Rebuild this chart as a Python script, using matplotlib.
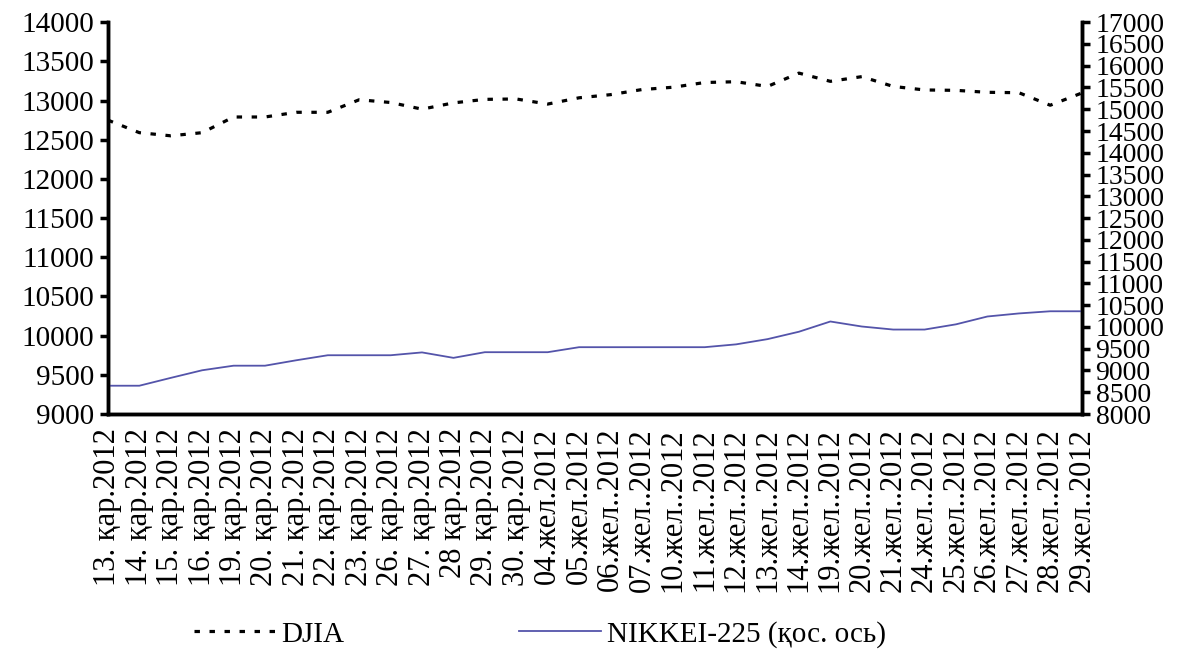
import matplotlib
matplotlib.use("Agg")
import matplotlib.pyplot as plt

plt.rcParams['font.family'] = ['Liberation Serif', 'DejaVu Serif']

# dates as printed on the x axis
dates = ["13. қар.2012", "14. қар.2012", "15. қар.2012", "16. қар.2012",
         "19. қар.2012", "20. қар.2012", "21. қар.2012", "22. қар.2012",
         "23. қар.2012", "26. қар.2012", "27. қар.2012", "28 қар.2012",
         "29. қар.2012", "30. қар.2012", "04.жел.2012", "05.жел.2012",
         "06.жел..2012", "07.жел..2012", "10.жел..2012", "11.жел..2012",
         "12.жел..2012", "13.жел..2012", "14.жел..2012", "19.жел..2012",
         "20.жел..2012", "21.жел..2012", "24.жел..2012", "25.жел..2012",
         "26.жел..2012", "27.жел..2012", "28.жел..2012", "29.жел..2012"]

djia = [12750, 12590, 12550, 12590, 12790, 12790, 12850, 12850,
        13010, 12975, 12890, 12970, 13015, 13020, 12955, 13035,
        13075, 13140, 13170, 13230, 13240, 13180, 13350, 13245,
        13305, 13180, 13135, 13130, 13105, 13100, 12940, 13095]

nikkei = [8650, 8650, 8830, 9005, 9110, 9110, 9235, 9350,
          9350, 9350, 9415, 9290, 9420, 9420, 9420, 9535,
          9535, 9535, 9535, 9535, 9600, 9720, 9890, 10125,
          10010, 9940, 9940, 10060, 10240, 10310, 10360, 10360]

left_ticks = list(range(9000, 14001, 500))
right_ticks = list(range(8000, 17001, 500))

nikkei_color = '#5454aa'
fs = 21

fig = plt.figure(figsize=(11.86, 6.52), dpi=100)
ax = fig.add_axes([0.091, 0.365, 0.821, 0.601])
ax2 = ax.twinx()

xx = list(range(len(dates)))
l1, = ax.plot(xx, djia, color='black', lw=2.3, linestyle=(0, (1.7, 3.0)),
              dash_capstyle='butt', label='DJIA')
l2, = ax2.plot(xx, nikkei, color=nikkei_color, lw=1.3,
               label='NIKKEI-225 (қос. ось)')

ax.set_xlim(0, len(dates) - 1)
ax.set_ylim(9000, 14000)
ax2.set_ylim(8000, 17000)
ax.set_yticks(left_ticks)
ax2.set_yticks(right_ticks)
ax.set_xticks(xx)
ax.set_xticklabels(dates, rotation=90, fontsize=22)
ax.tick_params(axis='x', length=0, pad=10)
ax.tick_params(axis='y', labelsize=fs, width=2.5, length=6, pad=4)
# right axis labels are packed tight, as in the source
ax2.tick_params(axis='y', labelsize=20, width=2.5, length=6, pad=4)

for a in (ax, ax2):
    a.spines['top'].set_visible(False)
    for s in ('left', 'right', 'bottom'):
        a.spines[s].set_linewidth(2.5)

fig.legend(handles=[l1, l2], loc='center', bbox_to_anchor=(0.455, 0.027),
           ncol=2, frameon=False, fontsize=fs, handlelength=2.8,
           handletextpad=0.2, columnspacing=6.0)

fig.savefig('out.png', dpi=100)
